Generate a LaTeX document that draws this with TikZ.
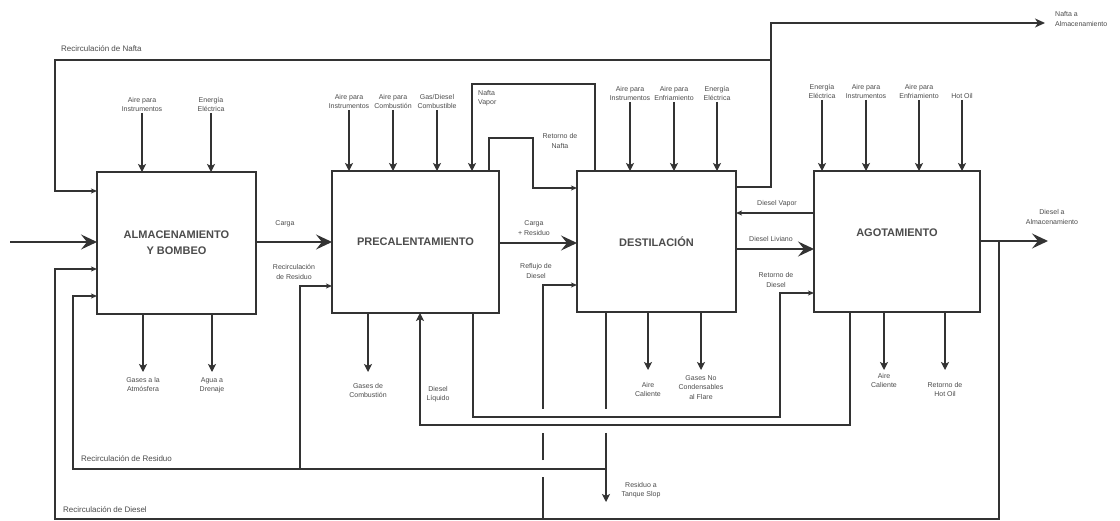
\documentclass[tikz,border=0pt]{standalone}
\usepackage{fontspec}
\setmainfont{Liberation Sans}
\usetikzlibrary{arrows.meta}
\definecolor{ink}{gray}{0.2}
\definecolor{txt}{gray}{0.3}
\begin{document}
\begin{tikzpicture}[x=1pt,y=-1pt,
  box/.style={draw=ink,line width=2.2pt,inner sep=0pt,outer sep=0pt,align=center,font=\fontsize{11}{16}\selectfont\bfseries,text=txt},
  bt/.style={font=\fontsize{11}{16}\selectfont\bfseries,text=txt,inner sep=0pt},
  lbl/.style={font=\fontsize{7}{9.5}\selectfont,text=txt,align=center,inner sep=1pt},
  lbleight/.style={font=\fontsize{8}{10}\selectfont,text=txt,inner sep=1pt},
  flow/.style={draw=ink,line width=1.1pt},
  inarr/.style={flow,-{Stealth[length=8pt,width=8pt,inset=2pt]}},
  sarr/.style={flow,-{Stealth[length=6pt,width=5pt,inset=1.5pt]}},
  bigarr/.style={draw=ink,line width=1.6pt,-{Stealth[length=16pt,width=15pt,inset=6pt]}},
  medarr/.style={draw=ink,line width=1.3pt,-{Stealth[length=10pt,width=9pt,inset=3pt]}},
]
\path[fill=white,use as bounding box] (0,0) rectangle (1120,521);

% ---------- boxes ----------
\node[box,minimum width=159pt,minimum height=142pt] (b1) at (176.5,243) {ALMACENAMIENTO\\Y BOMBEO};
\node[box,minimum width=167pt,minimum height=142pt] (b2) at (415.5,242) {PRECALENTAMIENTO};
\node[box,minimum width=159pt,minimum height=141pt] (b3) at (656.5,241.5) {DESTILACIÓN};
\node[box,minimum width=166pt,minimum height=141pt] (b4) at (897,241.5) {};
\node[bt] (b4t) at (897,233) {AGOTAMIENTO};

% ---------- top inputs ----------
\node[lbl,anchor=south] (i11) at (142,113) {Aire para\\Instrumentos};
\node[lbl,anchor=south] (i12) at (211,113) {Energía\\Eléctrica};
\node[lbl,anchor=south] (i21) at (349,110) {Aire para\\Instrumentos};
\node[lbl,anchor=south] (i22) at (393,110) {Aire para\\Combustión};
\node[lbl,anchor=south] (i23) at (437,110) {Gas/Diesel\\Combustible};
\node[lbl,anchor=south] (i31) at (630,102) {Aire para\\Instrumentos};
\node[lbl,anchor=south] (i32) at (674,102) {Aire para\\Enfriamiento};
\node[lbl,anchor=south] (i33) at (717,102) {Energía\\Eléctrica};
\node[lbl,anchor=south] (i41) at (822,100) {Energía\\Eléctrica};
\node[lbl,anchor=south] (i42) at (866,100) {Aire para\\Instrumentos};
\node[lbl,anchor=south] (i43) at (919,100) {Aire para\\Enfriamiento};
\node[lbl,anchor=south] (i44) at (962,100) {Hot Oil};
\foreach \i/\b in {i11/b1,i12/b1,i21/b2,i22/b2,i23/b2,i31/b3,i32/b3,i33/b3,i41/b4,i42/b4,i43/b4,i44/b4}
  \draw[inarr] (\i.south) -- (\i.south |- \b.north);

% ---------- bottom outputs ----------
\coordinate (o11) at (143,372);
\coordinate (o12) at (212,372);
\coordinate (o21) at (368,372);
\coordinate (o31) at (648,370);
\coordinate (o32) at (701,370);
\coordinate (o41) at (884,370);
\coordinate (o42) at (945,370);
\node[lbl,anchor=north] (l11) at (143,376) {Gases a la\\Atmósfera};
\node[lbl,anchor=north] (l12) at (212,376) {Agua a\\Drenaje};
\node[lbl,anchor=north] (l21) at (368,382) {Gases de\\Combustión};
\node[lbl,anchor=north] (l31) at (648,381) {Aire\\Caliente};
\node[lbl,anchor=north] (l32) at (701,374) {Gases No\\Condensables\\al Flare};
\node[lbl,anchor=north] (l41) at (884,372) {Aire\\Caliente};
\node[lbl,anchor=north] (l42) at (945,381) {Retorno de\\Hot Oil};
\foreach \o/\b in {o11/b1,o12/b1,o21/b2,o31/b3,o32/b3,o41/b4,o42/b4}
  \draw[inarr] (\b.south -| \o) -- (\o);

% ---------- main line ----------
\coordinate (feed) at (10,242);
\draw[bigarr] (feed) -- (b1.west |- feed);
\coordinate (cg) at (294,242);
\draw[bigarr] (b1.east |- cg) -- (b2.west |- cg);
\node[lbl] (lcg) at (285,224) {Carga};
\coordinate (cr) at (538,243);
\draw[bigarr] (b2.east |- cr) -- (b3.west |- cr);
\node[lbl] (lcr) at (534,228) {Carga\\+ Residuo};
\coordinate (dlv) at (775,249);
\draw[bigarr] (b3.east |- dlv) -- (b4.west |- dlv);
\node[lbl] (ldlv) at (771,239) {Diesel Liviano};
\coordinate (dvp) at (775,213);
\draw[sarr] (b4.west |- dvp) -- (b3.east |- dvp);
\node[lbl] (ldvp) at (777,204) {Diesel Vapor};

% ---------- diesel product ----------
\coordinate (dp) at (999,241);
\coordinate (dEnd) at (1048,241);
\draw[bigarr] (b4.east |- dp) -- (dEnd);
\node[lbl] (ldp) at (1052,217) {Diesel a\\Almacenamiento};

% ---------- nafta ----------
\coordinate (nc1) at (771,187);
\coordinate (nc2) at (771,60);
\coordinate (nc3) at (771,23);
\coordinate (nEnd) at (1045,23);
\draw[medarr] (b3.east |- nc1) -- (nc1) -- (nc3) -- (nEnd);
\node[lbl,anchor=west,align=left] (lna) at (1054,19) {Nafta a\\Almacenamiento};
\coordinate (rn1) at (55,60);
\coordinate (rn2) at (55,191);
\draw[sarr] (nc2) -- (rn1) -- (rn2) -- (b1.west |- rn2);
\node[lbleight,anchor=west] (lrn) at (60,49) {Recirculación de Nafta};

% Nafta Vapor
\coordinate (nv1) at (595,84);
\coordinate (nv2) at (472,84);
\draw[inarr] (b3.north -| nv1) -- (nv1) -- (nv2) -- (b2.north -| nv2);
\node[lbl,anchor=west,align=left] (lnv) at (477,98) {Nafta\\Vapor};

% Retorno de Nafta
\coordinate (rt1) at (489,138);
\coordinate (rt2) at (533,138);
\coordinate (rt3) at (533,188);
\draw[sarr] (b2.north -| rt1) -- (rt1) -- (rt2) -- (rt3) -- (b3.west |- rt3);
\node[lbl] (lrt) at (560,141) {Retorno de\\Nafta};

% ---------- diesel returns ----------
\coordinate (dq1) at (850,425);
\coordinate (dq2) at (420,425);
\draw[inarr] (b4.south -| dq1) -- (dq1) -- (dq2) -- (b2.south -| dq2);
\node[lbl] (ldq) at (438,394) {Diesel\\Líquido};

\coordinate (rd1) at (473,417);
\coordinate (rd2) at (780,417);
\coordinate (rd3) at (780,293);
\draw[sarr] (b2.south -| rd1) -- (rd1) -- (rd2) -- (rd3) -- (b4.west |- rd3);
\node[lbl] (lrd) at (776,280) {Retorno de\\Diesel};

\coordinate (rdd1) at (999,519);
\coordinate (rdd2) at (55,519);
\coordinate (rdd3) at (55,269);
\draw[sarr] (dp) -- (rdd1) -- (rdd2) -- (rdd3) -- (b1.west |- rdd3);
\node[lbleight,anchor=west] (lrdd) at (62,510) {Recirculación de Diesel};

% Reflujo de Diesel (line jumps)
\coordinate (rf0) at (543,519);
\coordinate (rfA) at (543,477);
\coordinate (rfB) at (543,460);
\coordinate (rfC) at (543,433);
\coordinate (rfD) at (543,409);
\coordinate (rf1) at (543,285);
\draw[flow] (rf0) -- (rfA) (rfB) -- (rfC);
\draw[sarr] (rfD) -- (rf1) -- (b3.west |- rf1);
\node[lbl] (lrf) at (536,271) {Reflujo de\\Diesel};

% ---------- residuo ----------
\coordinate (rsA) at (606,409);
\coordinate (rsB) at (606,433);
\coordinate (rs0) at (606,469);
\coordinate (rsEnd) at (606,502);
\draw[flow] (b3.south -| rsA) -- (rsA);
\draw[inarr] (rsB) -- (rsEnd);
\node[lbl] (lrs) at (641,490) {Residuo a\\Tanque Slop};

\coordinate (rr1) at (73,469);
\coordinate (rr2) at (73,296);
\coordinate (rr3) at (300,469);
\coordinate (rr4) at (300,286);
\draw[sarr] (rs0) -- (rr1) -- (rr2) -- (b1.west |- rr2);
\draw[sarr] (rr3) -- (rr4) -- (b2.west |- rr4);
\node[lbleight,anchor=west] (lrr) at (80,459) {Recirculación de Residuo};
\node[lbl] (lrr2) at (294,272) {Recirculación\\de Residuo};
\end{tikzpicture}
\end{document}
